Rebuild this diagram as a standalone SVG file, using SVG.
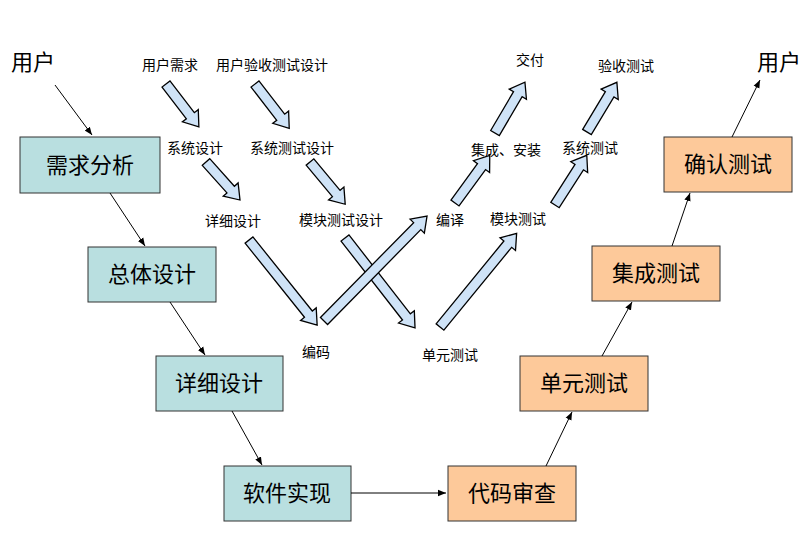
<svg xmlns="http://www.w3.org/2000/svg" width="802" height="539" viewBox="0 0 802 539">
<defs>
<style>
.b{fill:#b9dfe0;stroke:#333;stroke-width:1}
.o{fill:#fdc99a;stroke:#333;stroke-width:1}
.bt{font-family:"Noto Sans CJK SC",sans-serif;font-size:22px;text-anchor:middle;fill:#000}
.s{font-family:"Noto Sans CJK SC",sans-serif;font-size:14px;text-anchor:middle;fill:#000}
.u{font-family:"Noto Sans CJK SC",sans-serif;font-size:22px;text-anchor:middle;fill:#000}
.ln{stroke:#000;stroke-width:1;fill:none;marker-end:url(#ah)}
.ba{fill:#cfe3f7;stroke:#000;stroke-width:1.3;stroke-linejoin:miter}
</style>
<marker id="ah" viewBox="0 0 10 10" refX="10" refY="5" markerWidth="8" markerHeight="8" orient="auto" markerUnits="userSpaceOnUse"><path d="M0,1 L10,5 L0,9 Z" fill="#000"/></marker>
</defs>
<rect width="802" height="539" fill="#fff"/>
<g id="n1"><rect class="b" x="20" y="137" width="140" height="56"/><text class="bt" x="90" y="173">需求分析</text></g>
<g id="n2"><rect class="b" x="88" y="247" width="128" height="55"/><text class="bt" x="152" y="282">总体设计</text></g>
<g id="n3"><rect class="b" x="156" y="356" width="127" height="55"/><text class="bt" x="219" y="391">详细设计</text></g>
<g id="n4"><rect class="b" x="224" y="466" width="127" height="55"/><text class="bt" x="287" y="501">软件实现</text></g>
<g id="n5"><rect class="o" x="448" y="466" width="128" height="55"/><text class="bt" x="512" y="501">代码审查</text></g>
<g id="n6"><rect class="o" x="520" y="356" width="128" height="55"/><text class="bt" x="584" y="391">单元测试</text></g>
<g id="n7"><rect class="o" x="592" y="246" width="128" height="55"/><text class="bt" x="656" y="281">集成测试</text></g>
<g id="n8"><rect class="o" x="664" y="137" width="128" height="55"/><text class="bt" x="728" y="172">确认测试</text></g>
<g id="labels">
<text class="u" x="33" y="70">用户</text>
<text class="u" x="779" y="70">用户</text>
<text class="s" x="170" y="70">用户需求</text>
<text class="s" x="272" y="70">用户验收测试设计</text>
<text class="s" x="195" y="153">系统设计</text>
<text class="s" x="292" y="153">系统测试设计</text>
<text class="s" x="233" y="226">详细设计</text>
<text class="s" x="341" y="225">模块测试设计</text>
<text class="s" x="316" y="357">编码</text>
<text class="s" x="450" y="360">单元测试</text>
<text class="s" x="450" y="225">编译</text>
<text class="s" x="518" y="224">模块测试</text>
<text class="s" x="506" y="155">集成、安装</text>
<text class="s" x="590" y="153">系统测试</text>
<text class="s" x="530" y="65">交付</text>
<text class="s" x="626" y="71">验收测试</text>
</g>
<g id="connectors">
<path class="ln" d="M55,85 L92,135"/>
<path class="ln" d="M110,193 L145,246"/>
<path class="ln" d="M170,302 L205,355"/>
<path class="ln" d="M232,411 L262,465"/>
<path class="ln" d="M351,493 L446,493"/>
<path class="ln" d="M546,466 L572,412"/>
<path class="ln" d="M602,356 L632,302"/>
<path class="ln" d="M672,246 L690,193"/>
<path class="ln" d="M732,137 L760,80"/>
<g transform="translate(166,84) rotate(52.5)"><path class="ba" d="M0,-5 L40,-5 L40,-10 L54,0 L40,10 L40,5 L0,5 Z"/></g>
<g transform="translate(255,84) rotate(52.3)"><path class="ba" d="M0,-5 L42,-5 L42,-10 L56,0 L42,10 L42,5 L0,5 Z"/></g>
<g transform="translate(206,162) rotate(48.2)"><path class="ba" d="M0,-5 L37,-5 L37,-10 L51,0 L37,10 L37,5 L0,5 Z"/></g>
<g transform="translate(310,162) rotate(50.2)"><path class="ba" d="M0,-5 L41,-5 L41,-10 L55,0 L41,10 L41,5 L0,5 Z"/></g>
<g transform="translate(249,240) rotate(51.3)"><path class="ba" d="M0,-5 L95,-5 L95,-10 L109,0 L95,10 L95,5 L0,5 Z"/></g>
<g transform="translate(345,238) rotate(52.1)"><path class="ba" d="M0,-5 L100,-5 L100,-10 L114,0 L100,10 L100,5 L0,5 Z"/></g>
<g transform="translate(324,321) rotate(-45.5)"><path class="ba" d="M0,-5 L133,-5 L133,-10 L147,0 L133,10 L133,5 L0,5 Z"/></g>
<g transform="translate(440,327) rotate(-50.7)"><path class="ba" d="M0,-5 L107,-5 L107,-10 L121,0 L107,10 L107,5 L0,5 Z"/></g>
<g transform="translate(455,203) rotate(-53.9)"><path class="ba" d="M0,-5 L45,-5 L45,-10 L59,0 L45,10 L45,5 L0,5 Z"/></g>
<g transform="translate(495,133) rotate(-59.5)"><path class="ba" d="M0,-5 L45,-5 L45,-10 L59,0 L45,10 L45,5 L0,5 Z"/></g>
<g transform="translate(555,205) rotate(-57.4)"><path class="ba" d="M0,-5 L45,-5 L45,-10 L59,0 L45,10 L45,5 L0,5 Z"/></g>
<g transform="translate(587,132) rotate(-59)"><path class="ba" d="M0,-5 L44,-5 L44,-10 L58,0 L44,10 L44,5 L0,5 Z"/></g>
</g>
</svg>
